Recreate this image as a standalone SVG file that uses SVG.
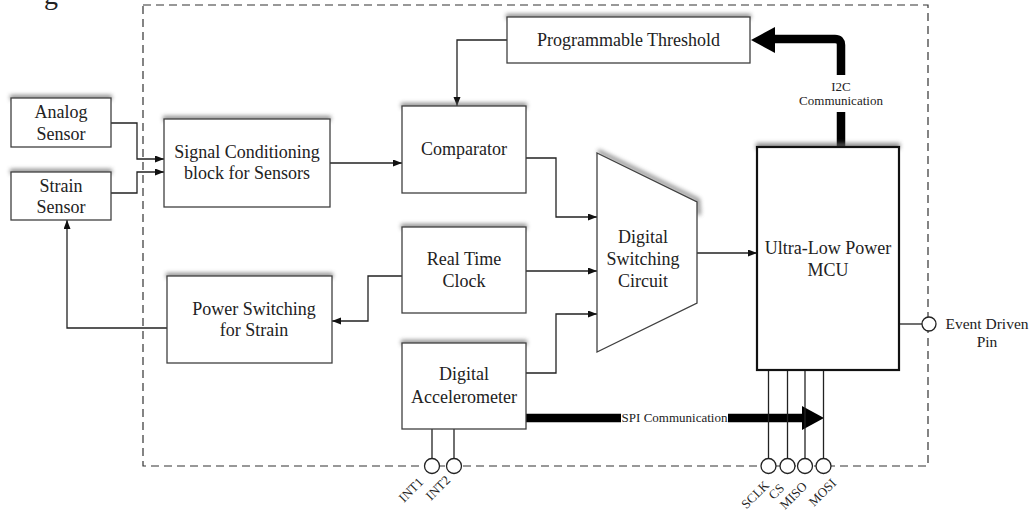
<svg xmlns="http://www.w3.org/2000/svg" width="1030" height="514" viewBox="0 0 1030 514">
<style>
  .box{fill:#fff;stroke:#404040;stroke-width:1.3}
  .mcu{fill:#fff;stroke:#111;stroke-width:2.2}
  .shd{fill:#666;opacity:0.75;filter:url(#blur)}
  .shl{fill:none;stroke:#666;stroke-width:4;opacity:0.75;filter:url(#blur)}
  .t{font-family:'Liberation Serif','Times New Roman',serif;font-size:18px;fill:#222;text-anchor:middle}
  .s{font-family:'Liberation Serif','Times New Roman',serif;font-size:13px;fill:#222;text-anchor:middle}
  .p{font-family:'Liberation Serif','Times New Roman',serif;font-size:13px;fill:#222;text-anchor:end}
  .ev{font-family:'Liberation Serif','Times New Roman',serif;font-size:15.5px;fill:#222;text-anchor:middle}
  .c{fill:none;stroke:#222;stroke-width:1.3}
  .ca{fill:none;stroke:#222;stroke-width:1.3;marker-end:url(#ah)}
  .thick{fill:none;stroke:#000;stroke-width:8.5}
  .pin{fill:#fff;stroke:#222;stroke-width:1.3}
  .dash{fill:none;stroke:#333;stroke-width:1.2;stroke-dasharray:8 5}
</style>
<defs>
  <filter id="blur" x="-10%" y="-300%" width="120%" height="700%"><feGaussianBlur stdDeviation="2"/></filter>
  <marker id="ah" markerUnits="userSpaceOnUse" markerWidth="10" markerHeight="8" refX="9" refY="3.5" orient="auto">
    <path d="M0,0 L9,3.5 L0,7 z" fill="#111"/>
  </marker>
</defs>
<rect width="1030" height="514" fill="#fff"/>
<text x="44" y="4" style="font-family:'Liberation Serif','Times New Roman',serif;font-size:28px;fill:#222">g</text>
<rect id="boundary" class="dash" x="143" y="5" width="785" height="461"/>

<g id="connectors">
  <polyline class="ca" points="111,123 137,123 137,159 164,159"/>
  <polyline class="ca" points="111,193 137,193 137,172 164,172"/>
  <line class="ca" x1="330" y1="163" x2="402" y2="163"/>
  <polyline class="ca" points="507,40 457,40 457,106"/>
  <polyline class="ca" points="526,158 556,158 556,217 597,217"/>
  <line class="ca" x1="526" y1="271" x2="597" y2="271"/>
  <polyline class="ca" points="526,373 556,373 556,314 597,314"/>
  <line class="ca" x1="697" y1="253" x2="757" y2="253"/>
  <polyline class="ca" points="402,276 368,276 368,321 332,321"/>
  <polyline class="ca" points="167,328 67,328 67,220"/>
  <path class="thick" d="M841,147 V112 M841,75 V45 Q841,39 835,39 H772"/>
  <polygon points="751,40 775,27 775,53" fill="#000"/>
  <path class="thick" d="M526,418 H621 M728,418 H803"/>
  <polygon points="802,406 824,418 802,430" fill="#000"/>
  <line class="c" x1="432" y1="429" x2="432" y2="458.5"/>
  <line class="c" x1="454" y1="429" x2="454" y2="458.5"/>
  <line class="c" x1="768.5" y1="370" x2="768.5" y2="458.5"/>
  <line class="c" x1="787.5" y1="370" x2="787.5" y2="458.5"/>
  <line class="c" x1="805" y1="370" x2="805" y2="458.5"/>
  <line class="c" x1="823.5" y1="370" x2="823.5" y2="458.5"/>
  <line class="c" x1="899" y1="324" x2="922" y2="324"/>
</g>

<g id="analog">
  <rect class="shd" x="10" y="95" width="102" height="5"/>
  <rect class="box" x="11" y="98" width="100" height="49"/>
  <text class="t" x="61" y="118">Analog</text>
  <text class="t" x="61" y="140">Sensor</text>
</g>
<g id="strain">
  <rect class="shd" x="10" y="169" width="102" height="5"/>
  <rect class="box" x="11" y="172" width="100" height="48"/>
  <text class="t" x="61" y="192">Strain</text>
  <text class="t" x="61" y="213">Sensor</text>
</g>
<g id="signal">
  <rect class="shd" x="163" y="116" width="168" height="5"/>
  <rect class="box" x="164" y="119" width="166" height="88"/>
  <text class="t" x="247" y="158">Signal Conditioning</text>
  <text class="t" x="247" y="179">block for Sensors</text>
</g>
<g id="power">
  <rect class="shd" x="166" y="273" width="167" height="5"/>
  <rect class="box" x="167" y="276" width="165" height="87"/>
  <text class="t" x="254" y="315">Power Switching</text>
  <text class="t" x="254" y="336">for Strain</text>
</g>
<g id="threshold">
  <rect class="shd" x="506" y="14" width="245" height="5"/>
  <rect class="box" x="507" y="17" width="243" height="46"/>
  <text class="t" x="628.5" y="46">Programmable Threshold</text>
</g>
<g id="comparator">
  <rect class="shd" x="401" y="103" width="126" height="5"/>
  <rect class="box" x="402" y="106" width="124" height="87"/>
  <text class="t" x="464" y="155">Comparator</text>
</g>
<g id="rtc">
  <rect class="shd" x="401" y="224" width="126" height="5"/>
  <rect class="box" x="402" y="227" width="124" height="86"/>
  <text class="t" x="464" y="265">Real Time</text>
  <text class="t" x="464" y="287">Clock</text>
</g>
<g id="accel">
  <rect class="shd" x="401" y="340" width="126" height="5"/>
  <rect class="box" x="402" y="343" width="124" height="86"/>
  <text class="t" x="464" y="380">Digital</text>
  <text class="t" x="464" y="403">Accelerometer</text>
</g>
<g id="switching">
  <polyline class="shl" points="598,151 698,200 699,215"/>
  <polygon class="box" points="597,153 697,202 697,303 597,352"/>
  <text class="t" x="643" y="243">Digital</text>
  <text class="t" x="643" y="265">Switching</text>
  <text class="t" x="643" y="287">Circuit</text>
</g>
<g id="mcu">
  <rect class="shd" x="756" y="143" width="144" height="6"/>
  <rect class="mcu" x="757" y="147" width="142" height="223"/>
  <text class="t" x="828" y="254">Ultra-Low Power</text>
  <text class="t" x="828" y="276">MCU</text>
</g>
<g id="i2c-label">
  <text class="s" x="841" y="91">I2C</text>
  <text class="s" x="841" y="105">Communication</text>
</g>
<g id="spi-label">
  <text class="s" x="674.5" y="422">SPI Communication</text>
</g>
<g id="event-pin">
  <circle class="pin" cx="929" cy="324" r="7"/>
  <text class="ev" x="987" y="329">Event Driven</text>
  <text class="ev" x="987" y="347">Pin</text>
</g>
<g id="pins">
  <circle class="pin" cx="432" cy="466" r="7.5"/>
  <circle class="pin" cx="454" cy="466" r="7.5"/>
  <circle class="pin" cx="768.5" cy="466" r="7.5"/>
  <circle class="pin" cx="787.5" cy="466" r="7.5"/>
  <circle class="pin" cx="805" cy="466" r="7.5"/>
  <circle class="pin" cx="823.5" cy="466" r="7.5"/>
  <text class="p" x="424" y="483" transform="rotate(-45 424 483)">INT1</text>
  <text class="p" x="451" y="481" transform="rotate(-45 451 481)">INT2</text>
  <text class="p" x="770" y="486" transform="rotate(-45 770 486)">SCLK</text>
  <text class="p" x="785" y="489" transform="rotate(-45 785 489)">CS</text>
  <text class="p" x="808" y="487" transform="rotate(-45 808 487)">MISO</text>
  <text class="p" x="837" y="484" transform="rotate(-45 837 484)">MOSI</text>
</g>
</svg>
